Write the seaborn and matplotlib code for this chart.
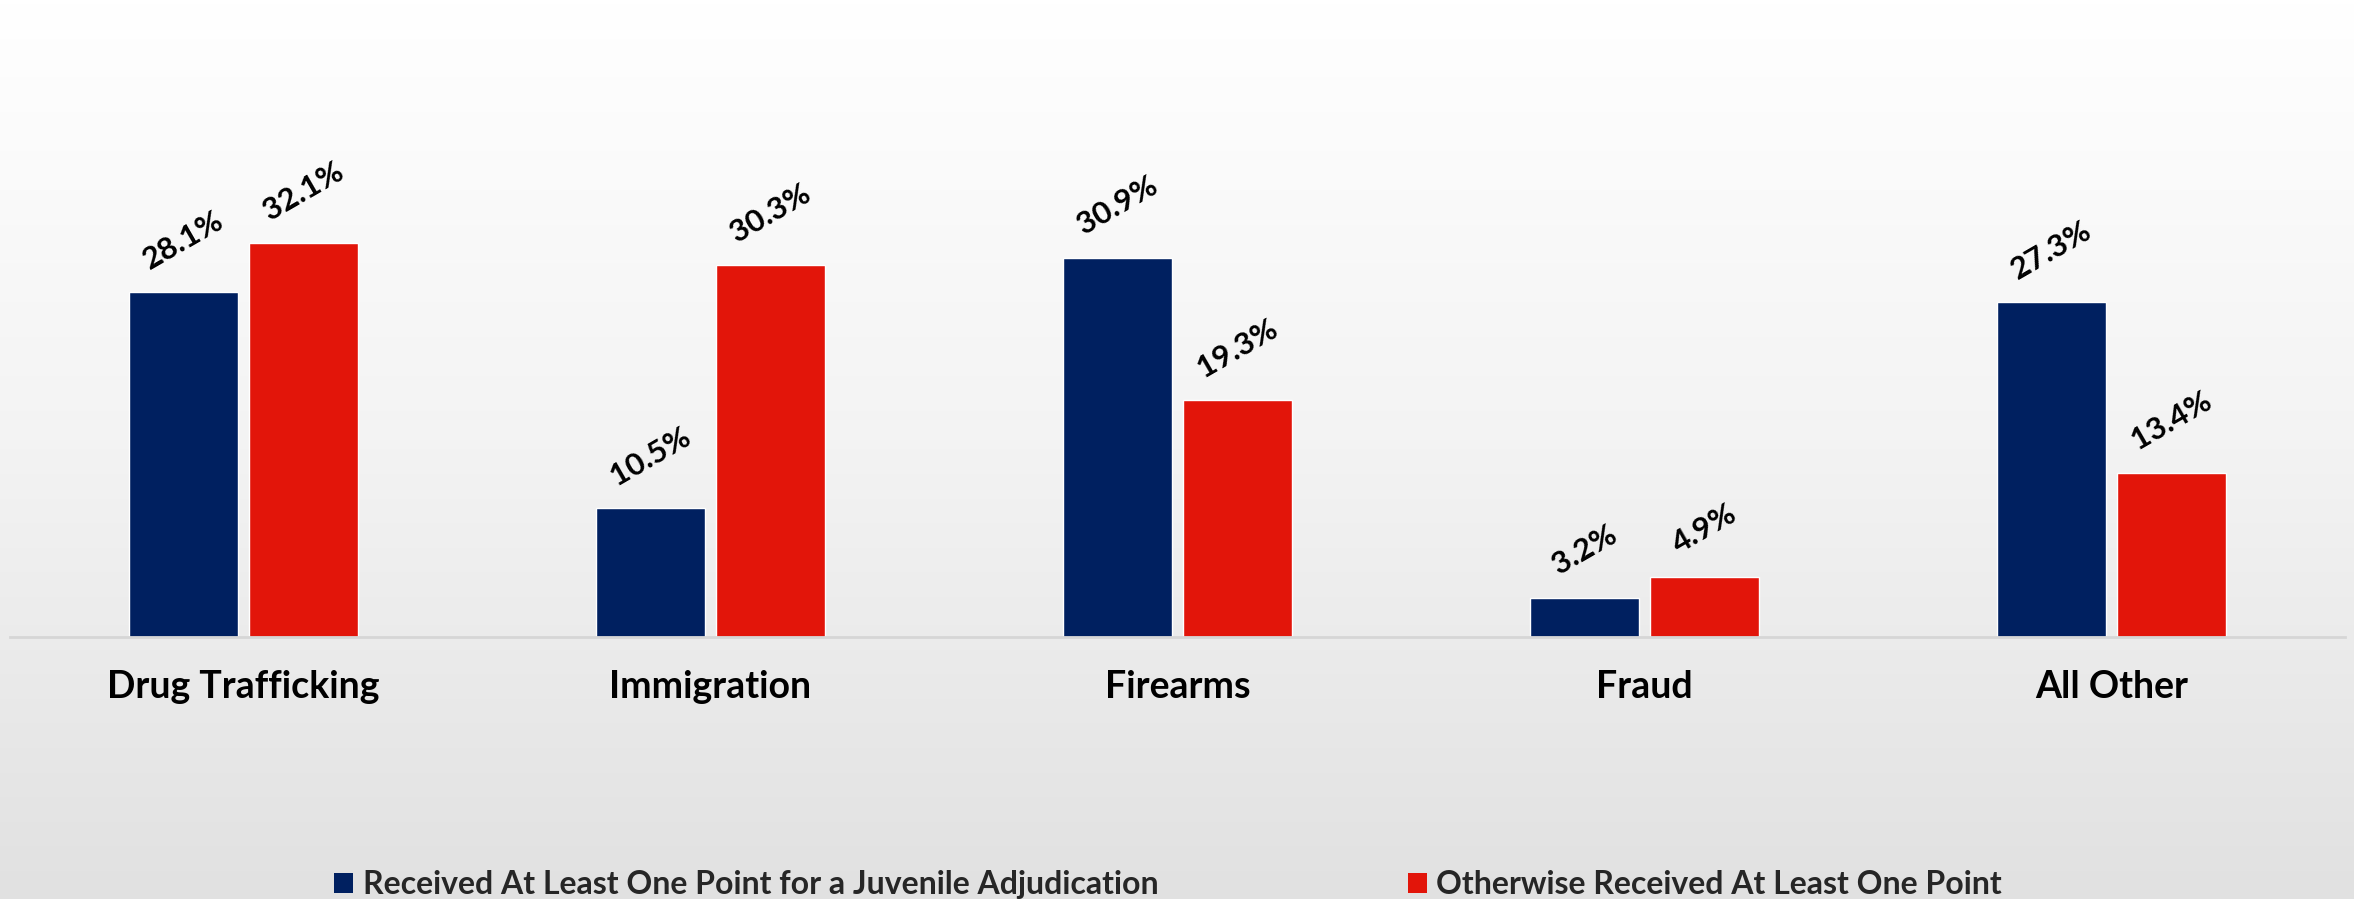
import numpy as np
import pandas as pd
import matplotlib
matplotlib.use("Agg")
import matplotlib.pyplot as plt
import seaborn as sns
from matplotlib.patches import Patch
from matplotlib.colors import LinearSegmentedColormap

categories = ["Drug Trafficking", "Immigration", "Firearms", "Fraud", "All Other"]
series_names = ["Received At Least One Point for a Juvenile Adjudication",
                "Otherwise Received At Least One Point"]
juvenile = [28.1, 10.5, 30.9, 3.2, 27.3]
otherwise = [32.1, 30.3, 19.3, 4.9, 13.4]
colors = ["#002060", "#E2150A"]

sns.set_theme(style="white")
plt.rcParams['font.family'] = ['Lato', 'DejaVu Sans']

df = pd.DataFrame({
    "category": categories * 2,
    "series": [series_names[0]] * len(categories) + [series_names[1]] * len(categories),
    "value": juvenile + otherwise,
})

W, H = 2354, 899
fig = plt.figure(figsize=(W / 100, H / 100), dpi=100)

# gradient background
bg = fig.add_axes([0, 0, 1, 1], zorder=0)
grad = np.linspace(0, 1, 256).reshape(-1, 1)
cmap = LinearSegmentedColormap.from_list("bg", ["#FFFFFF", "#F3F3F3", "#E1E1E1"])
bg.imshow(grad, aspect="auto", cmap=cmap, extent=[0, 1, 0, 1], origin="upper")
bg.axis("off")

base_y = 637
ax = fig.add_axes([10 / W, (H - base_y) / H, (2345 - 10) / W, base_y / H], zorder=1)
ax.patch.set_alpha(0)

sns.barplot(data=df, x="category", y="value", hue="series", hue_order=series_names,
            order=categories, palette=colors, width=0.513, gap=0.09, saturation=1,
            legend=False, ax=ax, errorbar=None)

ax.set_xlim(-0.5, 4.5)
ax.set_ylim(0, base_y / 12.27)
for s in ["top", "left", "right"]:
    ax.spines[s].set_visible(False)
ax.spines["bottom"].set_color("#D6D6D6")
ax.spines["bottom"].set_linewidth(2)
ax.set_xlabel("")
ax.set_ylabel("")
ax.set_yticks([])
ax.tick_params(axis="x", length=0, pad=24)
for lbl in ax.get_xticklabels():
    lbl.set_fontsize(27)
    lbl.set_fontweight("bold")
    lbl.set_color("#000000")

for cont, vals in zip(ax.containers, [juvenile, otherwise]):
    ax.bar_label(cont, labels=[f"{v:.1f}%" for v in vals], padding=13,
                 rotation=30, fontsize=22.5, fontweight="bold", color="#000000")

handles = [Patch(facecolor=c, edgecolor="none") for c in colors]
fig.legend(handles=handles, labels=series_names, loc="lower center",
           bbox_to_anchor=(1168 / W, 0.0), ncol=2, frameon=False,
           prop={"size": 23, "weight": "bold"}, handlelength=0.6, handleheight=0.6,
           handletextpad=0.3, columnspacing=7.8, borderaxespad=0, borderpad=0)

fig.savefig("out.png", dpi=100)
